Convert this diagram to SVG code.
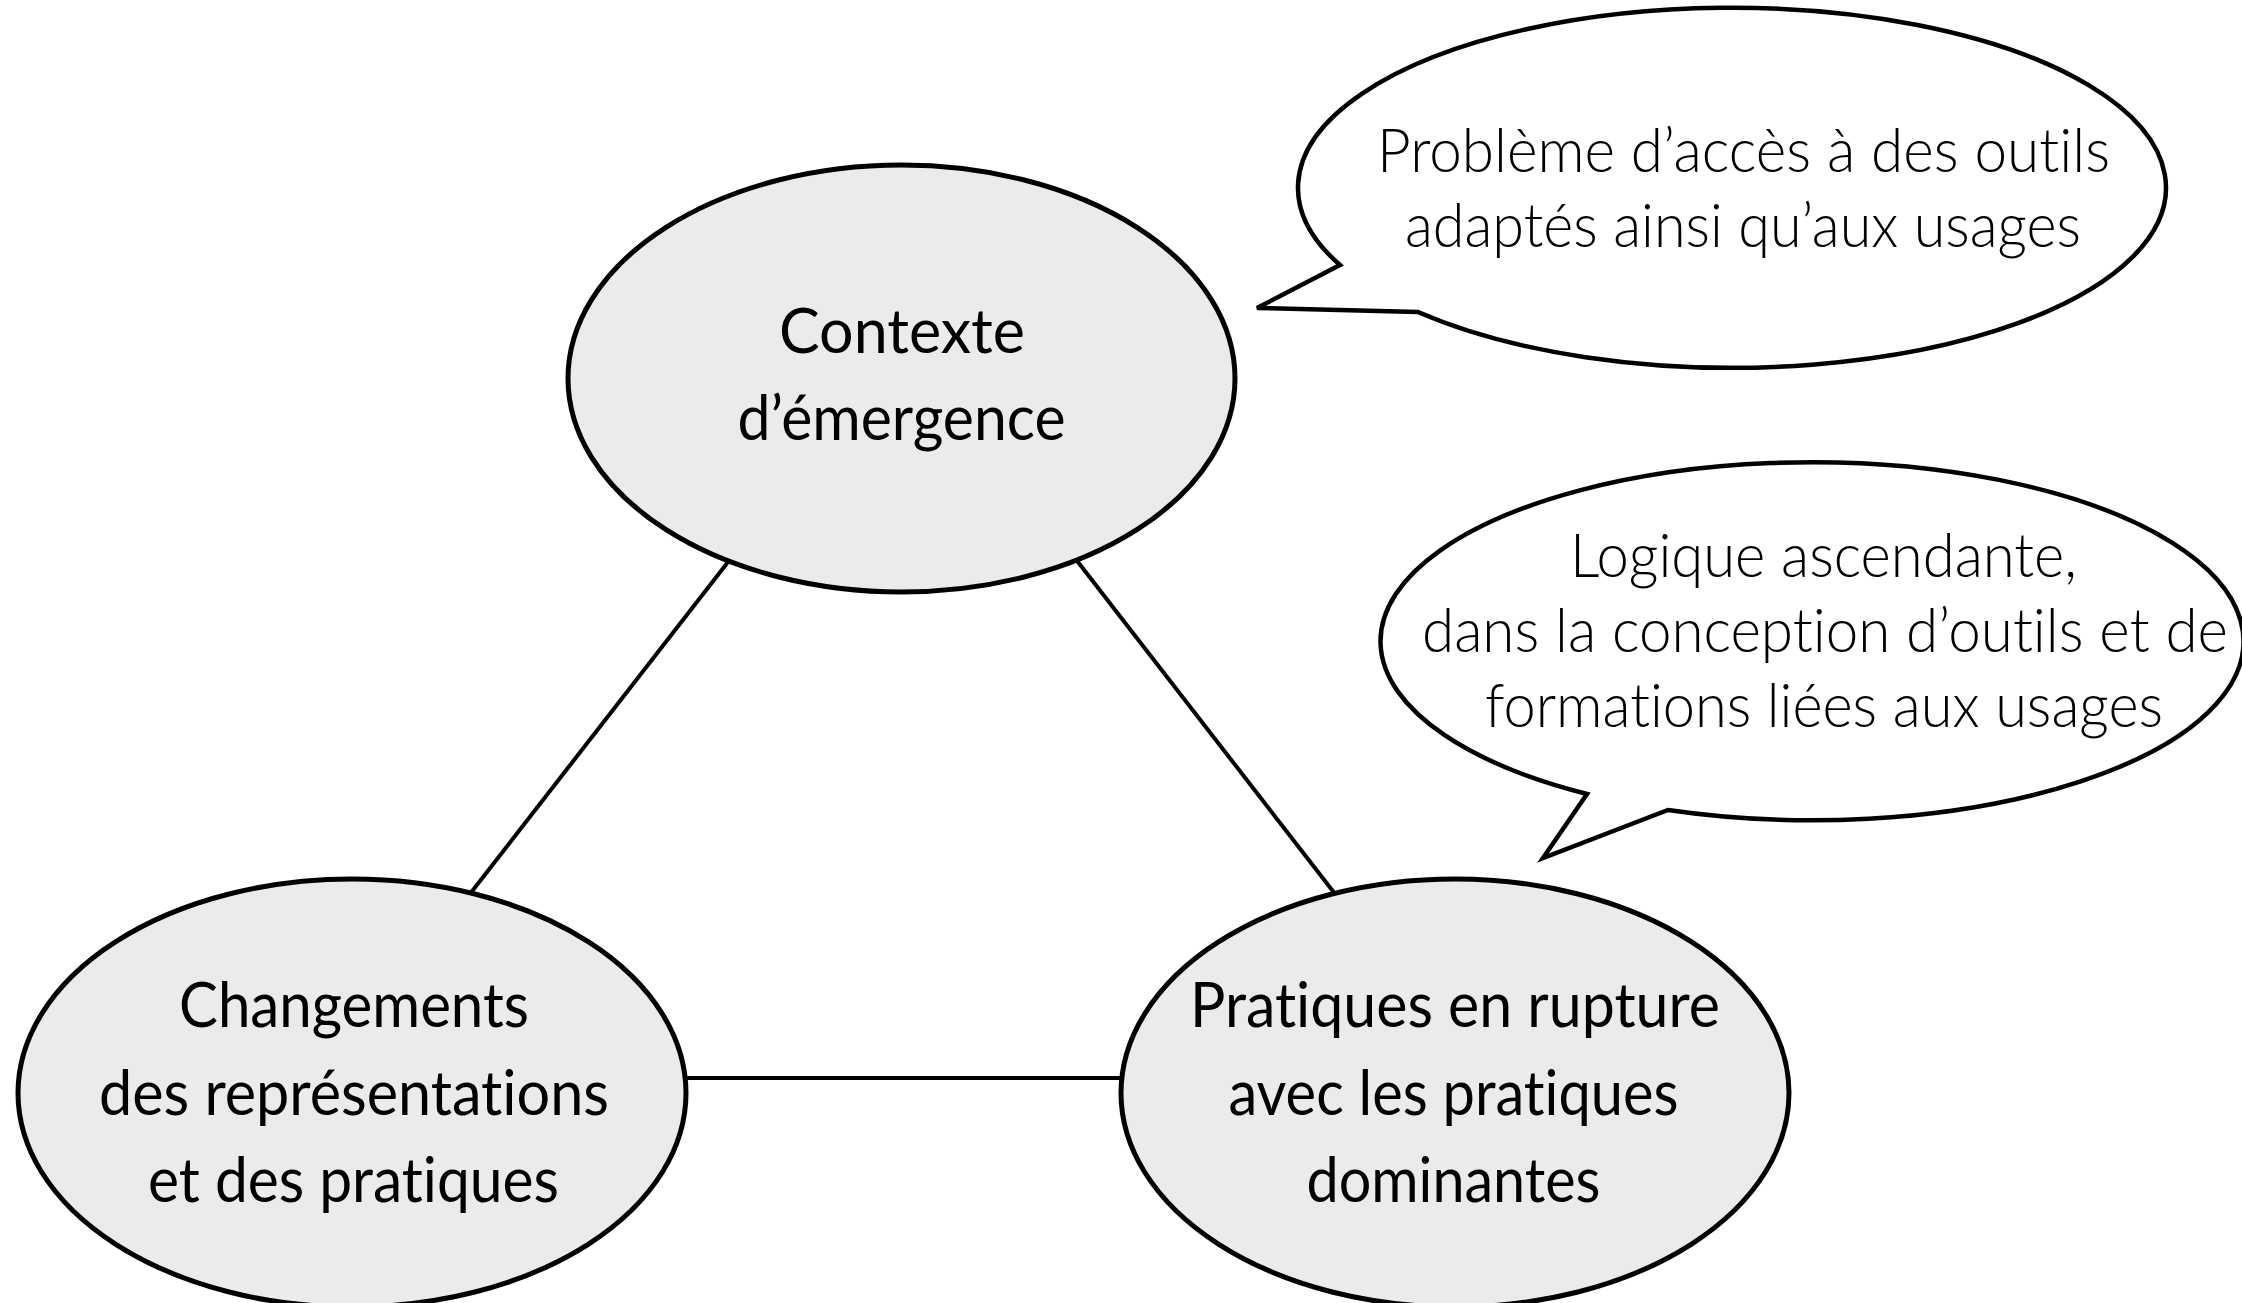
<svg xmlns="http://www.w3.org/2000/svg" width="2242" height="1303" viewBox="0 0 2242 1303">
  <style>
    .node { fill: #ebebeb; stroke: #000; stroke-width: 5; }
    .bubble { fill: #fff; stroke: #000; stroke-width: 4.5; stroke-linejoin: miter; }
    .edge { stroke: #000; stroke-width: 4; fill: none; }
    .nt { font-family: Lato, "Open Sans", "Liberation Sans", sans-serif; font-size: 61px; font-weight: 400; fill: #000; text-anchor: middle; font-variant-ligatures: none; }
    .bt { font-family: Lato, "Open Sans", "Liberation Sans", sans-serif; font-size: 61px; font-weight: 300; fill: #000; text-anchor: middle; font-variant-ligatures: none; }
  </style>
  <rect x="0" y="0" width="2242" height="1303" fill="#fff"/>
  <g id="connectors">
    <line class="edge" x1="735" y1="553" x2="466" y2="899"/>
    <line class="edge" x1="1071" y1="553" x2="1339" y2="899"/>
    <line class="edge" x1="680" y1="1078" x2="1127" y2="1078"/>
  </g>
  <g id="node-contexte">
    <ellipse class="node" cx="901.5" cy="378.5" rx="333.5" ry="213.5"/>
    <text class="nt" x="902" y="353" textLength="246" lengthAdjust="spacingAndGlyphs">Contexte</text>
    <text class="nt" x="901.5" y="440" textLength="328" lengthAdjust="spacingAndGlyphs">d’émergence</text>
  </g>
  <g id="node-changements">
    <ellipse class="node" cx="352" cy="1093" rx="334" ry="214"/>
    <text class="nt" x="354" y="1027" textLength="350" lengthAdjust="spacingAndGlyphs">Changements</text>
    <text class="nt" x="354" y="1115" textLength="510" lengthAdjust="spacingAndGlyphs">des représentations</text>
    <text class="nt" x="353.5" y="1202" textLength="411" lengthAdjust="spacingAndGlyphs">et des pratiques</text>
  </g>
  <g id="node-pratiques">
    <ellipse class="node" cx="1455" cy="1093" rx="334" ry="214"/>
    <text class="nt" x="1455" y="1027" textLength="530" lengthAdjust="spacingAndGlyphs">Pratiques en rupture</text>
    <text class="nt" x="1453.5" y="1115" textLength="450" lengthAdjust="spacingAndGlyphs">avec les pratiques</text>
    <text class="nt" x="1453.5" y="1202" textLength="294" lengthAdjust="spacingAndGlyphs">dominantes</text>
  </g>
  <g id="bubble-probleme">
    <path class="bubble" d="M 1340 265 L 1257 308 L 1418 312 A 434 180 0 1 0 1340 265 Z"/>
    <text class="bt" x="1743.5" y="172" textLength="733" lengthAdjust="spacingAndGlyphs">Problème d’accès à des outils</text>
    <text class="bt" x="1743" y="247" textLength="676" lengthAdjust="spacingAndGlyphs">adaptés ainsi qu’aux usages</text>
  </g>
  <g id="bubble-logique">
    <path class="bubble" d="M 1587 794 L 1543 858 L 1668 810 A 431.5 179 0 1 0 1587 794 Z"/>
    <text class="bt" x="1823.5" y="577" textLength="507" lengthAdjust="spacingAndGlyphs">Logique ascendante,</text>
    <text class="bt" x="1825" y="652" textLength="806" lengthAdjust="spacingAndGlyphs">dans la conception d’outils et de</text>
    <text class="bt" x="1824" y="727" textLength="678" lengthAdjust="spacingAndGlyphs">formations liées aux usages</text>
  </g>
</svg>
